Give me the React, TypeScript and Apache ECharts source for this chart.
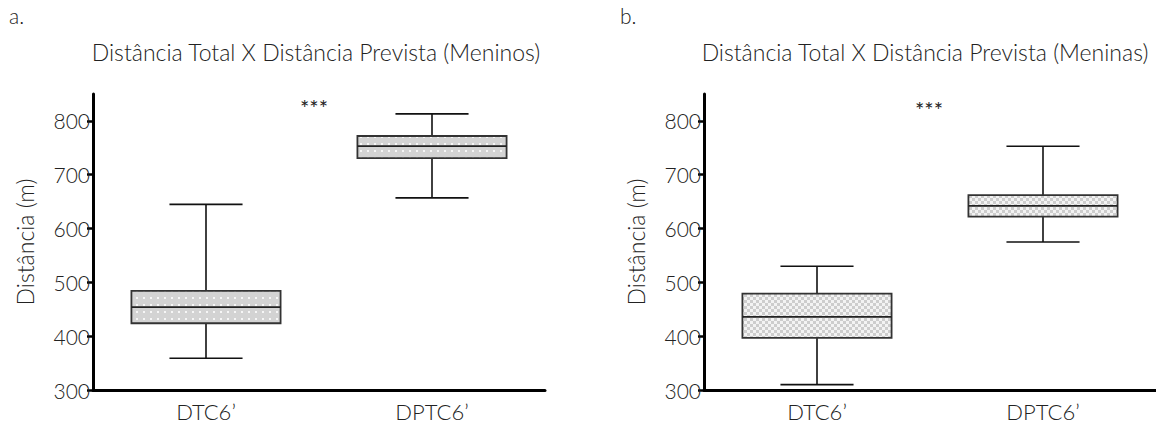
import React, { useEffect, useRef } from "react";
import * as echarts from "echarts";

const categories = ["DTC6\u2019", "DPTC6\u2019"];
// [min, Q1, median, Q3, max]
const boysDTC = [359, 424, 454, 484, 645];
const boysDPTC = [657, 731, 753, 772, 813];
const girlsDTC = [310, 397, 436, 479, 530];
const girlsDPTC = [575, 622, 642, 662, 753];
const yTicks = [300, 400, 500, 600, 700, 800];
const titles = [
  "Distância Total X Distância Prevista (Meninos)",
  "Distância Total X Distância Prevista (Meninas)",
];
const panelLetters = ["a.", "b."];
const yName = "Distância (m)";
const signif = "***";

const FONT = "Lato, 'Open Sans', sans-serif";
const W = 300;

function makeDots(): HTMLCanvasElement {
  const c = document.createElement("canvas");
  c.width = 7;
  c.height = 7;
  const g = c.getContext("2d")!;
  g.fillStyle = "#d3d3d3";
  g.fillRect(0, 0, 7, 7);
  g.fillStyle = "#f6f6f6";
  g.fillRect(3, 3, 2, 2);
  return c;
}
function makeChecker(): HTMLCanvasElement {
  const c = document.createElement("canvas");
  c.width = 6;
  c.height = 6;
  const g = c.getContext("2d")!;
  g.fillStyle = "#f3f3f3";
  g.fillRect(0, 0, 6, 6);
  g.fillStyle = "#cdcdcd";
  g.fillRect(0, 0, 3, 3);
  g.fillRect(3, 3, 3, 3);
  return c;
}

export default function App() {
  const ref = useRef<HTMLDivElement>(null);
  useEffect(() => {
    if (!ref.current) return;
    const chart = echarts.init(ref.current, undefined, { renderer: "svg" });
    const dots = makeDots().toDataURL();
    const checker = makeChecker().toDataURL();

    const grids = [
      { left: 93, right: 611, top: 94, bottom: 39 },
      { left: 704, right: 0, top: 94, bottom: 39 },
    ];

    const mkX = (gi: number) => ({
      type: "category",
      gridIndex: gi,
      data: categories,
      axisLine: { lineStyle: { color: "#000", width: 3 } },
      axisTick: { alignWithLabel: true, length: 7, lineStyle: { color: "#000", width: 3 } },
      axisLabel: { fontSize: 22, color: "#222", fontFamily: FONT, fontWeight: W, margin: 10 },
    });
    const mkY = (gi: number) => ({
      type: "value",
      gridIndex: gi,
      min: 300,
      max: 850,
      interval: 100,
      name: yName,
      nameLocation: "middle",
      nameGap: 57,
      nameTextStyle: { fontSize: 23, color: "#222", fontFamily: FONT, fontWeight: W },
      splitLine: { show: false },
      axisLine: { show: true, lineStyle: { color: "#000", width: 3 } },
      axisTick: { show: true, length: 6, customValues: yTicks, lineStyle: { color: "#000", width: 2.5 } },
      axisLabel: { fontSize: 21, color: "#222", fontFamily: FONT, fontWeight: W, margin: 3, customValues: yTicks },
    });

    const mkSeries = (gi: number, a: number[], b: number[], img: string) => ({
      type: "custom",
      xAxisIndex: gi,
      yAxisIndex: gi,
      clip: false,
      encode: { x: 0, y: [1, 2, 3, 4, 5] },
      data: [
        [0, ...a],
        [1, ...b],
      ],
      renderItem: (params: any, api: any) => {
        const idx = api.value(0);
        const cx = api.coord([idx, api.value(1)])[0];
        const yv = [1, 2, 3, 4, 5].map((i) => api.coord([idx, api.value(i)])[1]);
        const band = api.size([1, 0])[0];
        const bw = band * 0.66;
        const cw = bw * 0.49;
        const ws = { stroke: "#111", lineWidth: 1.6 };
        return {
          type: "group",
          children: [
            { type: "line", shape: { x1: cx, y1: yv[4], x2: cx, y2: yv[3] }, style: ws },
            { type: "line", shape: { x1: cx, y1: yv[1], x2: cx, y2: yv[0] }, style: ws },
            { type: "line", shape: { x1: cx - cw / 2, y1: yv[4], x2: cx + cw / 2, y2: yv[4] }, style: ws },
            { type: "line", shape: { x1: cx - cw / 2, y1: yv[0], x2: cx + cw / 2, y2: yv[0] }, style: ws },
            {
              type: "rect",
              shape: { x: cx - bw / 2, y: yv[3], width: bw, height: yv[1] - yv[3] },
              style: { fill: { image: img, repeat: "repeat" }, stroke: "#333", lineWidth: 1.8 },
            },
            {
              type: "line",
              shape: { x1: cx - bw / 2, y1: yv[2], x2: cx + bw / 2, y2: yv[2] },
              style: { stroke: "#222", lineWidth: 1.8 },
            },
          ],
        };
      },
    });

    const txt = (x: number, y: number, text: string, size: number, align = "center", weight: number = W) => ({
      type: "text",
      x,
      y,
      style: {
        text,
        fontSize: size,
        fontFamily: FONT,
        fontWeight: weight,
        fill: "#222",
        textAlign: align,
        textVerticalAlign: "middle",
      },
    });

    chart.setOption({
      animation: false,
      backgroundColor: "#fff",
      grid: grids,
      xAxis: [mkX(0), mkX(1)],
      yAxis: [mkY(0), mkY(1)],
      series: [mkSeries(0, boysDTC, boysDPTC, dots), mkSeries(1, girlsDTC, girlsDPTC, checker)],
      graphic: [
        txt(9, 15, panelLetters[0], 21, "left"),
        txt(620, 15, panelLetters[1], 21, "left"),
        txt(316, 52, titles[0], 23),
        txt(925, 52, titles[1], 23),
        txt(314, 107, signif, 22, "center", 400),
        txt(929, 109, signif, 22, "center", 400),
      ],
    });
    return () => chart.dispose();
  }, []);
  return (
    <div
      ref={ref}
      style={{ position: "fixed", left: 0, top: 0, width: 1156, height: 429, background: "#fff" }}
    />
  );
}
